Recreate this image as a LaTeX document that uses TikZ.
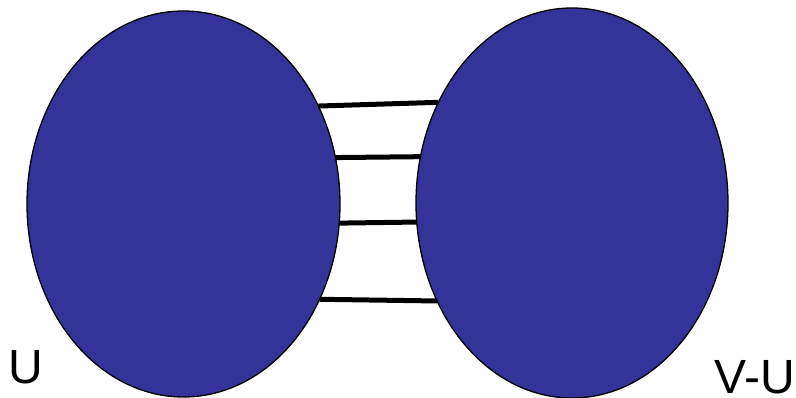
\documentclass[tikz,border=0pt]{standalone}
\usepackage{fontspec}
\setmainfont{Liberation Sans}
\usepackage{tikz}
\usetikzlibrary{shapes.geometric, positioning}
\definecolor{SetBlue}{HTML}{333399}

\begin{document}
\begin{tikzpicture}[x=1pt, y=-1pt,
    setnode/.style={ellipse, draw=black, line width=1.3pt, fill=SetBlue, inner sep=0pt, outer sep=0pt},
    edgeline/.style={line width=5pt, black},
    setlabel/.style={font=\fontsize{48}{48}\selectfont, inner sep=0pt}]
  \useasboundingbox (0,0) rectangle (796,398);
  \node (cut) [setnode, minimum width=313pt, minimum height=386pt] at (183.5,204) {};
  \node (rest) [setnode, minimum width=312pt, minimum height=390pt] at (572,203) {};

  \draw[edgeline] (cut.36.8) -- (rest.143.3);
  \draw[edgeline] (cut.17.2) -- (rest.163.7);
  \draw[edgeline] (cut.-7) -- (rest.187.4);
  \draw[edgeline] (cut.-35.6) -- (rest.216.1);

  \node (ulabel) [setlabel, anchor=base west] at (8,383) {U};
  \node (vulabel) [setlabel, anchor=base east] at (795,393) {V-U};
\end{tikzpicture}
\end{document}
